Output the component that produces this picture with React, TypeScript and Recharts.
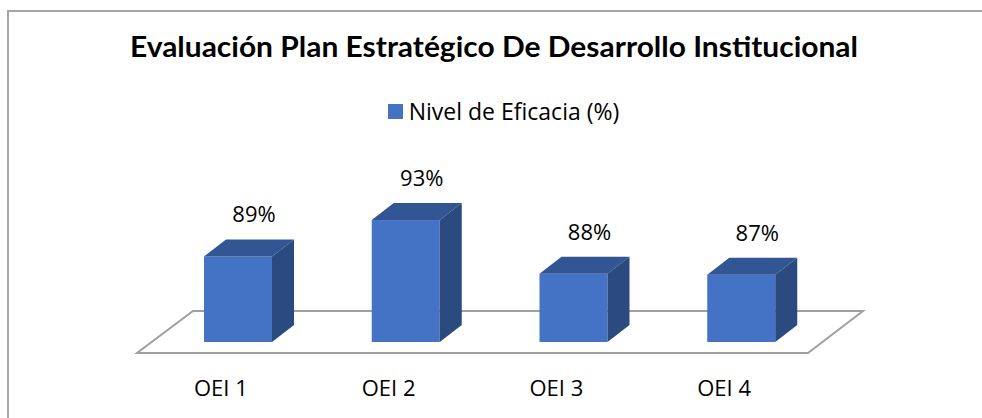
import React from 'react'
import { BarChart, Bar, XAxis, YAxis, Legend, LabelList, ReferenceArea } from 'recharts'

// categorias y valores del grafico
const categories = ['OEI 1', 'OEI 2', 'OEI 3', 'OEI 4']
const eficacia = [89.4, 93.4, 87.5, 87.4]
const seriesName = 'Nivel de Eficacia (%)'

const data = categories.map((name, i) => ({ name, value: eficacia[i] }))

const DX = 22
const DY = -17
const FRONT = '#4472C4'
const TOP = '#325593'
const SIDE = '#2A4A80'
const FONT = '"Open Sans", sans-serif'

// barra con efecto 3D
const Bar3D = (props: any) => {
  const { x, y, width: w, height: h } = props
  if (h == null || w == null) return null
  return (
    <g>
      <rect x={x} y={y} width={w} height={h} fill={FRONT} />
      <polygon points={`${x},${y} ${x + DX},${y + DY} ${x + w + DX},${y + DY} ${x + w},${y}`} fill={TOP} />
      <polygon points={`${x + w},${y} ${x + w + DX},${y + DY} ${x + w + DX},${y + h + DY} ${x + w},${y + h}`} fill={SIDE} />
    </g>
  )
}

// piso del grafico
const Floor = (props: any) => {
  const { x, y, width, height } = props
  const L = x
  const R = x + width
  const B = y + height
  const pts = [
    [L - 17, B + 11],
    [R - 17, B + 11],
    [R + 38, B - 31],
    [L + 39, B - 31]
  ]
  return (
    <polygon
      points={pts.map(p => p.join(',')).join(' ')}
      fill="#fff"
      stroke="#A0A0A0"
      strokeWidth={2}
    />
  )
}

const ValueLabel = (props: any) => {
  const { x, y, width, value } = props
  return (
    <text
      x={x + width / 2 + 16}
      y={y - 34}
      textAnchor="middle"
      fontSize={22}
      fontFamily={FONT}
      fill="#000"
    >
      {Math.round(value)}%
    </text>
  )
}

const CategoryTick = (props: any) => {
  const { x, payload } = props
  return (
    <text x={x - 17} y={396} textAnchor="middle" fontSize={22} fontFamily={FONT} fill="#000">
      {payload.value}
    </text>
  )
}

const LegendContent = () => (
  <div style={{ display: 'flex', justifyContent: 'center', alignItems: 'center', fontFamily: FONT, fontSize: 23, color: '#000', paddingLeft: 25 }}>
    <span style={{ display: 'inline-block', width: 15, height: 15, background: FRONT, marginRight: 6 }} />
    <span>{seriesName}</span>
  </div>
)

export default function App() {
  return (
    <div style={{ position: 'relative', width: 982, height: 418, background: '#fff', overflow: 'hidden' }}>
      <style>{'body{margin:0}'}</style>
      <div style={{ position: 'absolute', left: 7, top: 10, right: 0, borderTop: '2px solid #A6A6A6' }} />
      <div style={{ position: 'absolute', left: 7, top: 10, bottom: 0, borderLeft: '2px solid #A6A6A6' }} />
      <svg width={982} height={80} style={{ position: 'absolute', left: 0, top: 0 }}>
        <text
          x={494}
          y={57}
          textAnchor="middle"
          fontSize={29}
          fontWeight="bold"
          fontFamily="Lato, sans-serif"
          textLength={728}
          lengthAdjust="spacingAndGlyphs"
          fill="#000"
        >
          Evaluación Plan Estratégico De Desarrollo Institucional
        </text>
      </svg>
      <div style={{ position: 'absolute', left: 0, top: 0 }}>
        <BarChart
          width={982}
          height={418}
          data={data}
          margin={{ top: 128, right: 157, bottom: 46, left: 154 }}
          barSize={68}
        >
          <XAxis dataKey="name" axisLine={false} tickLine={false} height={30} tick={<CategoryTick />} interval={0} />
          <YAxis hide domain={[80, 100]} />
          <Legend
            verticalAlign="top"
            content={<LegendContent />}
            wrapperStyle={{ position: 'absolute', top: 95, left: 0, width: 982 }}
          />
          <ReferenceArea y1={80} y2={81} shape={<Floor />} />
          <Bar dataKey="value" name={seriesName} shape={<Bar3D />} isAnimationActive={false}>
            <LabelList dataKey="value" content={<ValueLabel />} />
          </Bar>
        </BarChart>
      </div>
    </div>
  )
}
